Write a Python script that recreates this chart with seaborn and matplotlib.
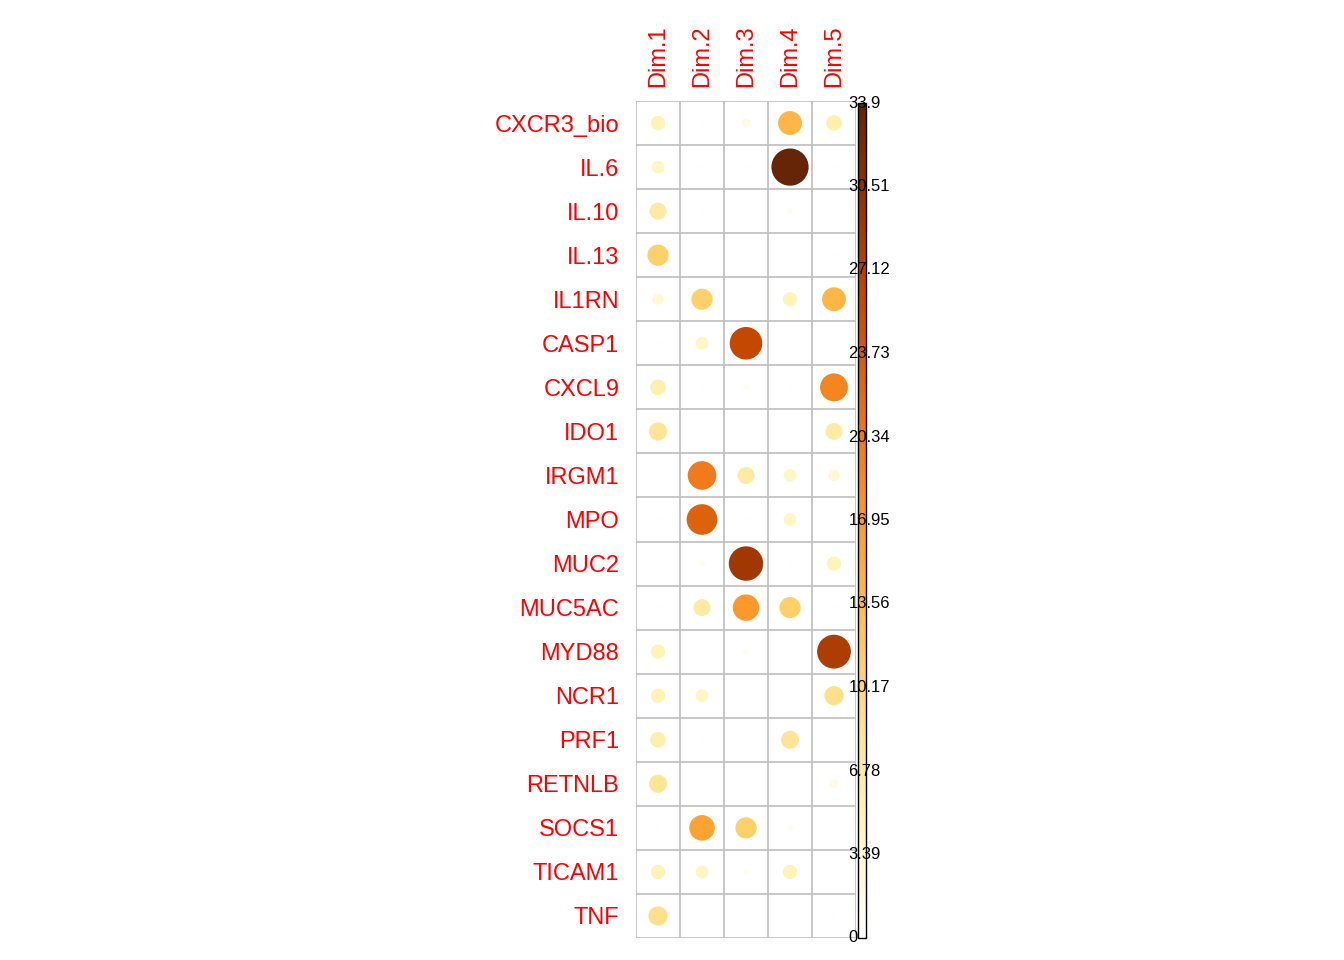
import pandas as pd
import numpy as np
import matplotlib
import matplotlib.pyplot as plt
import seaborn as sns

genes = ["CXCR3_bio", "IL.6", "IL.10", "IL.13", "IL1RN", "CASP1", "CXCL9", "IDO1", "IRGM1",
         "MPO", "MUC2", "MUC5AC", "MYD88", "NCR1", "PRF1", "RETNLB", "SOCS1", "TICAM1", "TNF"]
dims = ["Dim.1", "Dim.2", "Dim.3", "Dim.4", "Dim.5"]
dim1 = [5, 4, 7, 11, 3, 0.5, 6, 8, 0.2, 0.5, 0.1, 0.5, 5, 5, 6, 8, 0.5, 5, 9]
dim2 = [0.5, 0.5, 0.5, 0, 11, 4, 0.5, 0.3, 20, 23, 1, 7, 0, 4, 0.5, 0.1, 16, 4, 0]
dim3 = [2, 0.5, 0.3, 0, 0.1, 26, 1, 0.3, 7, 0.5, 29, 17, 1, 0.2, 0.2, 0, 11, 1, 0.1]
dim4 = [14, 33.9, 1, 0.3, 5, 0.3, 0.5, 0.3, 4, 4, 0.5, 11, 0.2, 0.3, 8, 0.3, 1, 5, 0.3]
dim5 = [6, 0.5, 0.2, 0.5, 14, 0.1, 19, 7, 3, 0.2, 5, 0.5, 28, 9, 0.3, 2, 0.1, 0.1, 0.5]
vmax = 33.9

df = pd.DataFrame({"Dim.1": dim1, "Dim.2": dim2, "Dim.3": dim3, "Dim.4": dim4, "Dim.5": dim5}, index=genes)
long = df.reset_index().melt(id_vars="index", var_name="dim", value_name="val")
long["x"] = long["dim"].map({d: i for i, d in enumerate(dims)})
long["y"] = long["index"].map({g: i for i, g in enumerate(genes)})
long = long[long["val"] > 0]

cmap = matplotlib.colors.LinearSegmentedColormap.from_list(
    "c", ["#FFFFFF", "#FFF7BC", "#FEE391", "#FEC44F", "#FE9929", "#EC7014", "#CC4C02", "#993404", "#662506"])
norm = matplotlib.colors.Normalize(0, vmax)

fig = plt.figure(figsize=(13.44, 9.6), dpi=100)
ax = fig.add_axes([636/1344, 22/960, 220/1344, 837/960])
maxarea = (21 * 72 / 100) ** 2 * np.pi
sns.scatterplot(data=long, x="x", y="y", hue="val", palette=cmap, hue_norm=norm,
                size="val", sizes=(0, maxarea), size_norm=(0, vmax), legend=False,
                linewidth=0, ax=ax)
ax.set_xlim(-0.5, 4.5)
ax.set_ylim(len(genes) - 0.5, -0.5)
for i in range(len(dims) + 1):
    ax.axvline(i - 0.5, color="#BEBEBE", lw=1.2, zorder=0)
for j in range(len(genes) + 1):
    ax.axhline(j - 0.5, color="#BEBEBE", lw=1.2, zorder=0)
for s in ax.spines.values():
    s.set_visible(False)
ax.set_xlabel("")
ax.set_ylabel("")
ax.xaxis.tick_top()
ax.set_xticks(range(len(dims)))
ax.set_xticklabels(dims, rotation=90, color="red", fontsize=17, family="Liberation Sans")
ax.set_yticks(range(len(genes)))
ax.set_yticklabels(genes, color="red", fontsize=17, family="Liberation Sans")
ax.tick_params(length=0, pad=12)
ax.tick_params(axis="x", pad=10)

cax = fig.add_axes([858/1344, 22/960, 8/1344, 835/960])
cb = fig.colorbar(matplotlib.cm.ScalarMappable(norm=norm, cmap=cmap), cax=cax)
cb.outline.set_linewidth(1)
cax.set_yticks([])
ticks = np.linspace(0, vmax, 11)
labels = ["0", "3.39", "6.78", "10.17", "13.56", "16.95", "20.34", "23.73", "27.12", "30.51", "33.9"]
for t, l in zip(ticks, labels):
    cax.text(-1.2, t, l, fontsize=12, family="Liberation Sans", va="center", ha="left",
             transform=cax.get_yaxis_transform())

fig.savefig("out.png", dpi=100)
